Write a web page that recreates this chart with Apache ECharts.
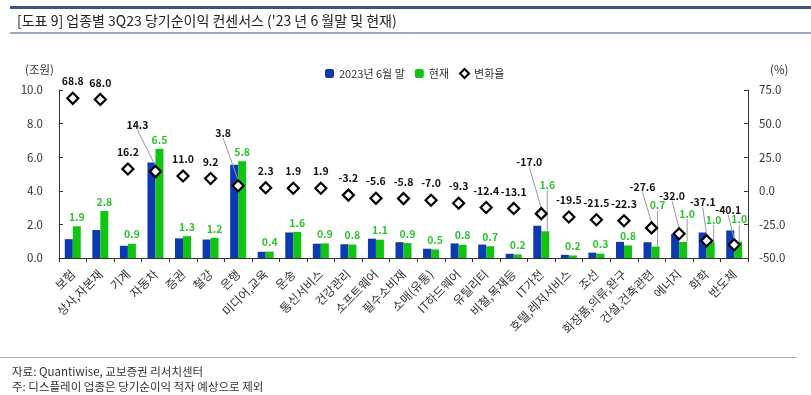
<!DOCTYPE html>
<html>
<head>
<meta charset="utf-8">
<script src="https://cdn.jsdelivr.net/npm/echarts@6/dist/echarts.min.js"></script>
<style>
html,body{margin:0;padding:0;background:#fff;}
#chart{width:811px;height:395px;}
</style>
</head>
<body>
<div id="chart"></div>
<script>
// ---- data ----
const categories = ['보험','상사,자본재','기계','자동차','증권','철강','은행','미디어,교육','운송','통신서비스','건강관리','소프트웨어','필수소비재','소매(유통)','IT하드웨어','유틸리티','비철,목재등','IT가전','호텔,레저서비스','조선','화장품,의류,완구','건설,건축관련','에너지','화학','반도체'];
const juneEnd = [1.12,1.67,0.73,5.69,1.17,1.10,5.55,0.37,1.52,0.85,0.82,1.15,0.94,0.55,0.87,0.80,0.25,1.92,0.19,0.32,0.96,0.94,1.43,1.52,1.64];
const current = [1.89,2.80,0.85,6.50,1.30,1.20,5.76,0.38,1.55,0.87,0.80,1.09,0.89,0.51,0.79,0.70,0.21,1.59,0.15,0.26,0.75,0.68,0.96,0.95,0.97];
const currentLabels = ['1.9','2.8','0.9','6.5','1.3','1.2','5.8','0.4','1.6','0.9','0.8','1.1','0.9','0.5','0.8','0.7','0.2','1.6','0.2','0.3','0.8','0.7','1.0','1.0','1.0'];
const changeRate = [68.8,68.0,16.2,14.3,11.0,9.2,3.8,2.3,1.9,1.9,-3.2,-5.6,-5.8,-7.0,-9.3,-12.4,-13.1,-17.0,-19.5,-21.5,-22.3,-27.6,-32.0,-37.1,-40.1];
const leftTicks = {min:0, max:10, interval:2};
const rightTicks = {min:-50, max:75, interval:25};

// ---- label layout tweaks (styling only) ----
const rateLabelShift = {3:[-18,-30],6:[-15,-36],17:[-12,-35],21:[-9,-24],22:[-7,-21],23:[-4,-22],24:[-6,-18]};
const curLabelShift = {17:[2,-37],21:[2,-32],22:[4,-19],23:[3,-13],24:[1,-13]};

const BLUE = '#0D3AB2', GREEN = '#12C412', LGREEN = '#2EC42E';
const FONT = '"Noto Sans CJK KR", "Noto Sans", sans-serif';

const chart = echarts.init(document.getElementById('chart'));

const curData = current.map((v,i)=>({value:v, labelLine:{show: !!curLabelShift[i]}}));
const rateData = changeRate.map((v,i)=>({value:v, labelLine:{show: !!rateLabelShift[i]}}));

chart.setOption({
  animation:false,
  textStyle:{fontFamily:FONT},
  title:[
    {text:"[도표 9] 업종별 3Q23 당기순이익 컨센서스 ('23 년 6 월말 및 현재)", left:12, top:9,
     textStyle:{fontSize:14, fontWeight:'normal', color:'#222', fontFamily:FONT}},
    {text:'자료: Quantiwise, 교보증권 리서치센터', left:7, top:361,
     textStyle:{fontSize:11.5, fontWeight:'normal', color:'#333', fontFamily:FONT}},
    {text:'주: 디스플레이 업종은 당기순이익 적자 예상으로 제외', left:7, top:376,
     textStyle:{fontSize:11.5, fontWeight:'normal', color:'#333', fontFamily:FONT}}
  ],
  graphic:[
    {type:'rect', shape:{x:10,y:6,width:801,height:3}, style:{fill:'#3A5578'}},
    {type:'line', shape:{x1:10,y1:33,x2:811,y2:33}, style:{stroke:'#3A5578',lineWidth:1}},
    {type:'line', shape:{x1:0,y1:357.5,x2:797,y2:357.5}, style:{stroke:'#aaa',lineWidth:1}},
    {type:'text', left:25, top:64, style:{text:'(조원)', fontSize:11.5, fill:'#333', fontFamily:FONT}},
    {type:'text', left:770, top:64, style:{text:'(%)', fontSize:11.5, fill:'#333', fontFamily:FONT}}
  ],
  legend:{
    top:63, left:320, itemWidth:9, itemHeight:9, itemGap:10,
    textStyle:{fontSize:11, color:'#333', fontFamily:FONT},
    data:[{name:'2023년 6월 말'},{name:'현재'},{name:'변화율', icon:'diamond'}]
  },
  grid:{left:59, right:63, top:90, bottom:137},
  xAxis:{
    type:'category', data:categories,
    axisLine:{lineStyle:{color:'#333'}},
    axisTick:{show:true, interval:0, length:4, lineStyle:{color:'#333'}},
    axisLabel:{interval:0, rotate:45, fontSize:12, color:'#333', margin:14, fontFamily:FONT}
  },
  yAxis:[
    {type:'value', min:leftTicks.min, max:leftTicks.max, interval:leftTicks.interval,
     splitLine:{show:false},
     axisLine:{show:true, lineStyle:{color:'#333'}},
     axisTick:{show:true, inside:true, length:4, lineStyle:{color:'#333'}},
     axisLabel:{formatter:v=>v.toFixed(1), fontSize:11.5, color:'#333', margin:16}},
    {type:'value', min:rightTicks.min, max:rightTicks.max, interval:rightTicks.interval,
     splitLine:{show:false},
     axisLine:{show:true, lineStyle:{color:'#333'}},
     axisTick:{show:true, inside:true, length:4, lineStyle:{color:'#333'}},
     axisLabel:{formatter:v=>v.toFixed(1), fontSize:11.5, color:'#333', margin:11}}
  ],
  series:[
    {name:'2023년 6월 말', type:'bar', data:juneEnd, barWidth:8, barGap:'0%',
     itemStyle:{color:BLUE}},
    {name:'현재', type:'bar', data:curData, barWidth:8, barGap:'0%',
     itemStyle:{color:GREEN},
     label:{show:true, position:'top', distance:4, color:LGREEN, fontWeight:'bold', fontSize:10.5,
            formatter:p=>currentLabels[p.dataIndex]},
     labelLine:{lineStyle:{color:'#999', width:1}},
     labelLayout:p=>{const s=curLabelShift[p.dataIndex]; return s?{dx:s[0],dy:s[1]}:{};}},
    {name:'변화율', type:'scatter', yAxisIndex:1, data:rateData, symbol:'diamond', symbolSize:11,
     z:5,
     itemStyle:{color:'#fff', borderColor:'#000', borderWidth:2.2, opacity:1},
     label:{show:true, position:'top', distance:5, color:'#111', fontWeight:'bold', fontSize:10.5,
            formatter:p=>p.value.toFixed(1)},
     labelLine:{lineStyle:{color:'#999', width:1}},
     labelLayout:p=>{const s=rateLabelShift[p.dataIndex]; return s?{dx:s[0],dy:s[1]}:{};}}
  ]
});
</script>
</body>
</html>
